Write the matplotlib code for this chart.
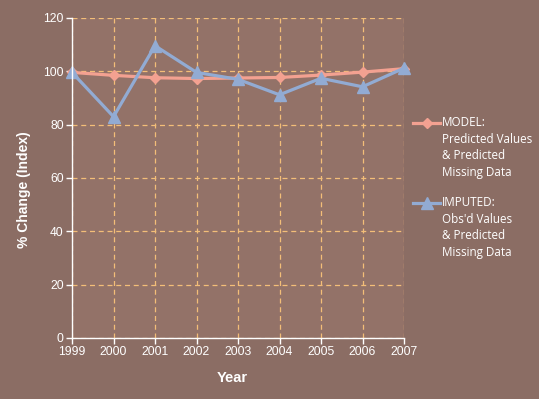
import matplotlib
matplotlib.use("Agg")
import matplotlib.pyplot as plt
from matplotlib.lines import Line2D

years = [1999, 2000, 2001, 2002, 2003, 2004, 2005, 2006, 2007]
model = [99.6, 98.5, 97.6, 97.3, 97.5, 97.7, 98.6, 99.7, 101.0]
imputed = [99.6, 83.0, 109.6, 99.6, 97.0, 91.2, 97.4, 94.2, 101.2]
yticks = [0, 20, 40, 60, 80, 100, 120]
model_label = ["MODEL:", "Predicted Values", "& Predicted", "Missing Data"]
imputed_label = ["IMPUTED:", "Obs'd Values", "& Predicted", "Missing Data"]

W, H = 539, 399
fig = plt.figure(figsize=(W / 100, H / 100), dpi=100)
fig.patch.set_facecolor("#8B6D64")
ax = fig.add_axes([72 / W, 1 - 338 / H, (404 - 72) / W, (338 - 18) / H])
ax.set_facecolor("#937268")

pink = "#F3A191"
blue = "#92ABD3"
grid_c = "#F3BE78"

ax.plot(years, model, color=pink, lw=2.3, marker="D", ms=5.5, mec=pink, mfc=pink, zorder=3, clip_on=False)
ax.plot(years, imputed, color=blue, lw=2.3, marker="^", ms=8.5, mec=blue, mfc=blue, zorder=4, clip_on=False)

ax.set_xlim(1999, 2007)
ax.set_ylim(0, 120)
ax.set_xticks(years)
ax.set_xticklabels([str(y) for y in years])
ax.set_yticks(yticks)
ax.grid(True, color=grid_c, ls=(0, (4, 3)), lw=0.9, zorder=1)
ax.set_axisbelow(True)
for s in ["top", "right"]:
    ax.spines[s].set_visible(False)
for s in ["left", "bottom"]:
    ax.spines[s].set_color("white")
    ax.spines[s].set_linewidth(1.0)
    ax.spines[s].set_zorder(5)
ax.tick_params(colors="white", labelcolor="white", length=4, width=1, direction="out",
               labelsize=8.7, pad=2)
for lab in ax.get_xticklabels() + ax.get_yticklabels():
    lab.set_fontfamily("Liberation Sans")

fig.text(232 / W, 1 - 378 / H, "Year", ha="center", va="center", color="white",
         fontsize=10.5, fontweight="bold", family="Liberation Sans")
fig.text(24 / W, 1 - 190 / H, "% Change (Index)", ha="center", va="center", rotation=90,
         color="white", fontsize=10, fontweight="bold", family="Liberation Sans")

def legend_entry(y0, color, marker, ms, lines):
    fig.add_artist(Line2D([413 / W, 440 / W], [1 - y0 / H, 1 - y0 / H], color=color, lw=2.3,
                          transform=fig.transFigure))
    fig.add_artist(Line2D([426.5 / W], [1 - y0 / H], color=color, marker=marker, ms=ms,
                          mec=color, mfc=color, transform=fig.transFigure))
    for i, t in enumerate(lines):
        fig.text(442 / W, 1 - (y0 + i * 16.4) / H, t, ha="left", va="center", color="white",
                 fontsize=8.4, family="Open Sans")

legend_entry(123, pink, "D", 5.5, model_label)
legend_entry(203, blue, "^", 8.5, imputed_label)

fig.savefig("out.png", dpi=100, facecolor=fig.get_facecolor())
